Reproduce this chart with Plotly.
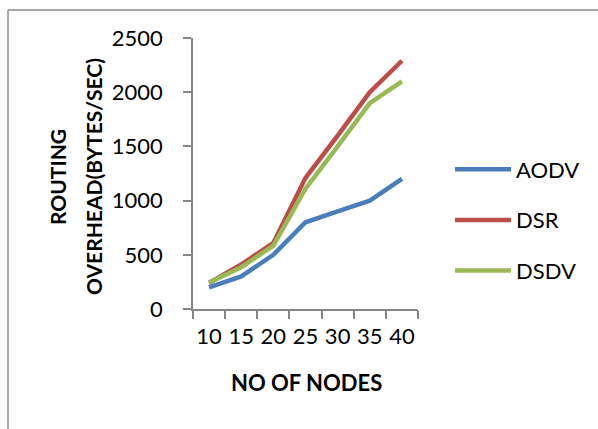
import plotly.graph_objects as go

nodes = ["10", "15", "20", "25", "30", "35", "40"]
aodv = [200, 300, 500, 800, 900, 1000, 1200]
dsr = [240, 410, 610, 1210, 1600, 2000, 2290]
dsdv = [245, 385, 585, 1110, 1500, 1900, 2100]
series = [("AODV", aodv, "#4A7EBB"), ("DSR", dsr, "#BE4B48"), ("DSDV", dsdv, "#98B954")]
y_ticks = [0, 500, 1000, 1500, 2000, 2500]

W, H = 598, 429
L, R, T, B = 193, 180, 38, 120
pw, ph = W - L - R, H - T - B

def px_x(p):
    return (p - L) / pw

def px_y(p):
    return (H - B - p) / ph

fig = go.Figure()
for name, vals, col in series:
    fig.add_trace(go.Scatter(x=nodes, y=vals, name=name, mode="lines",
                             legendgroup=name,
                             line=dict(color=col, width=4.5)))

font = "Lato"
axcol = "#868686"
fig.update_layout(
    width=W, height=H,
    margin=dict(l=L, r=R, t=T, b=B),
    paper_bgcolor="white", plot_bgcolor="white",
    font=dict(family=font, size=22, color="black"),
    showlegend=True,
    legend=dict(x=px_x(450), y=px_y(220), xanchor="left", yanchor="middle",
                font=dict(family=font, size=22, color="black"),
                itemwidth=56,
                tracegroupgap=19, bgcolor="rgba(0,0,0,0)"),
    xaxis=dict(type="category", range=[-0.5, len(nodes) - 0.5],
               tickson="boundaries", ticks="outside", ticklen=8, tickangle=0,
               tickcolor=axcol, tickwidth=1.5, showline=True, linecolor=axcol,
               linewidth=1.5, showgrid=False, zeroline=False,
               tickfont=dict(family=font, size=22), ticklabelstandoff=7),
    yaxis=dict(range=[0, 2500], tickvals=y_ticks, ticks="outside", ticklen=8,
               tickcolor=axcol, tickwidth=1.5, showline=True, linecolor=axcol,
               linewidth=1.5, showgrid=False, zeroline=False,
               tickfont=dict(family=font, size=22), ticklabelstandoff=16),
)

fig.add_annotation(text="<b>ROUTING</b>", xref="paper", yref="paper",
                   x=px_x(58), y=px_y(177), xanchor="center", yanchor="middle",
                   textangle=-90, showarrow=False, font=dict(family=font, size=21))
fig.add_annotation(text="<b>OVERHEAD(BYTES/SEC)</b>", xref="paper", yref="paper",
                   x=px_x(94), y=px_y(177), xanchor="center", yanchor="middle",
                   textangle=-90, showarrow=False, font=dict(family=font, size=21))
fig.add_annotation(text="<b>NO OF NODES</b>", xref="paper", yref="paper",
                   x=px_x(306), y=px_y(382), xanchor="center", yanchor="middle",
                   showarrow=False, font=dict(family=font, size=22))

# chart frame (cropped): left and top edges
fig.add_shape(type="line", xref="paper", yref="paper",
              x0=px_x(8), y0=px_y(H + 5), x1=px_x(8), y1=px_y(10),
              line=dict(color="#8c8c8c", width=1.5))
fig.add_shape(type="line", xref="paper", yref="paper",
              x0=px_x(8), y0=px_y(10), x1=px_x(W + 5), y1=px_y(10),
              line=dict(color="#8c8c8c", width=1.5))

fig.write_html("out.html")
